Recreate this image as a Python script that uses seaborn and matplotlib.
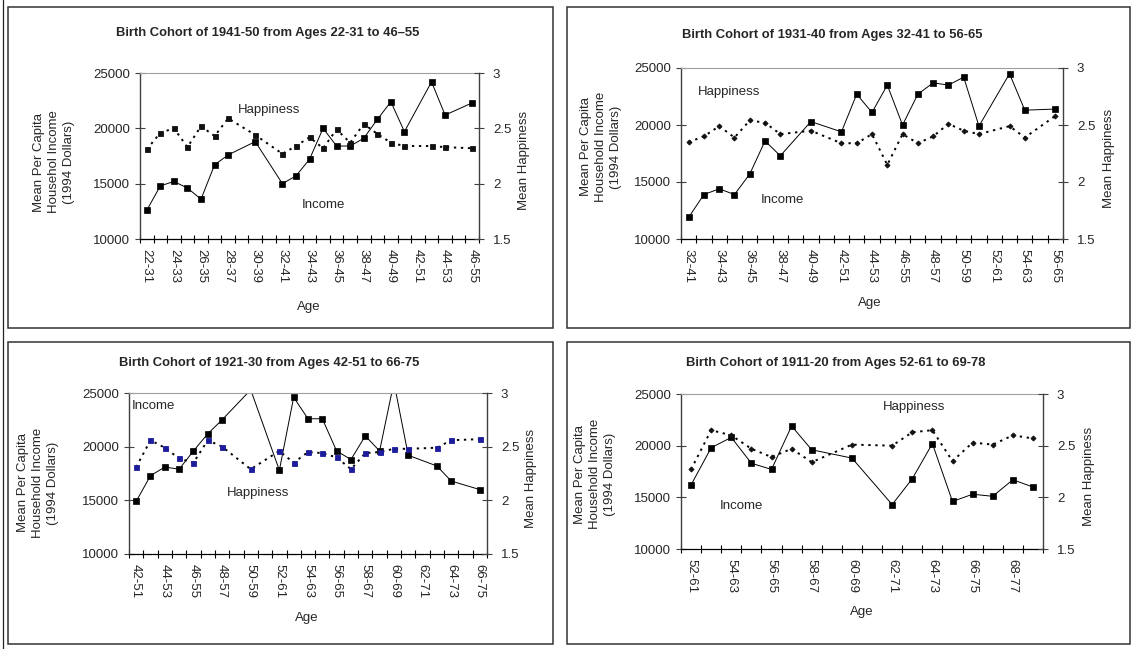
import numpy as np
import pandas as pd
import matplotlib
matplotlib.use("Agg")
import matplotlib.pyplot as plt
from matplotlib.patches import Rectangle
from matplotlib.lines import Line2D
from matplotlib.ticker import FuncFormatter, FixedLocator
import seaborn as sns

nan = np.nan

# ---------------- data ----------------
ages1 = ["22-31", "23-32", "24-33", "25-34", "26-35", "27-36", "28-37", "29-38", "30-39",
         "31-40", "32-41", "33-42", "34-43", "35-44", "36-45", "37-46", "38-47", "39-48",
         "40-49", "41-50", "42-51", "43-52", "44-53", "45-54", "46-55"]
income1 = [12600, 14800, 15200, 14600, 13600, 16700, 17600, nan, 18800, nan, 15000, 15700,
           17200, 20000, 18400, 18400, 19100, 20800, 22400, 19700, nan, 24200, 21200, nan, 22300]
happy1 = [2.31, 2.46, 2.50, 2.33, 2.52, 2.43, 2.59, nan, 2.44, nan, 2.27, 2.34,
          2.42, 2.32, 2.49, 2.37, 2.54, 2.45, 2.37, 2.34, nan, 2.34, 2.33, nan, 2.32]

ages2 = ["32-41", "33-42", "34-43", "35-44", "36-45", "37-46", "38-47", "39-48", "40-49",
         "41-50", "42-51", "43-52", "44-53", "45-54", "46-55", "47-56", "48-57", "49-58",
         "50-59", "51-60", "52-61", "53-62", "54-63", "55-64", "56-65"]
income2 = [11900, 13900, 14400, 13900, 15700, 18600, 17300, nan, 20300, nan, 19400, 22700,
           21100, 23500, 20000, 22700, 23700, 23500, 24200, 19900, nan, 24500, 21300, nan, 21400]
happy2 = [2.35, 2.40, 2.49, 2.39, 2.54, 2.52, 2.42, nan, 2.45, nan, 2.34, 2.34,
          2.42, 2.15, 2.42, 2.34, 2.40, 2.51, 2.45, 2.42, nan, 2.49, 2.39, nan, 2.58]

ages3 = ["42-51", "43-52", "44-53", "45-54", "46-55", "47-56", "48-57", "49-58", "50-59",
         "51-60", "52-61", "53-62", "54-63", "55-64", "56-65", "57-66", "58-67", "59-68",
         "60-69", "61-70", "62-71", "63-72", "64-73", "65-74", "66-75"]
income3 = [14900, 17300, 18100, 17900, 19600, 21200, 22500, nan, 25300, nan, 17800, 24600,
           22600, 22600, 19600, 18800, 21000, 19600, 26000, 19200, nan, 18200, 16800, nan, 16000]
happy3 = [2.31, 2.56, 2.49, 2.39, 2.35, 2.56, 2.50, nan, 2.29, nan, 2.46, 2.35,
          2.45, 2.44, 2.40, 2.29, 2.44, 2.45, 2.48, 2.48, nan, 2.49, 2.56, nan, 2.57]

ages4 = ["52-61", "53-62", "54-63", "55-64", "56-65", "57-66", "58-67", "59-68", "60-69",
         "61-70", "62-71", "63-72", "64-73", "65-74", "66-75", "67-76", "68-77", "69-78"]
income4 = [16200, 19800, 20800, 18300, 17700, 21900, 19600, nan, 18800, nan, 14300, 16800,
           20200, 14600, 15300, 15100, 16700, 16000]
happy4 = [2.27, 2.65, 2.60, 2.47, 2.39, 2.47, 2.34, nan, 2.51, nan, 2.50, 2.63,
          2.65, 2.35, 2.53, 2.51, 2.60, 2.57]

titles = ["Birth Cohort of 1941-50 from Ages 22-31 to 46\u201355",
          "Birth Cohort of 1931-40 from Ages 32-41 to 56-65",
          "Birth Cohort of 1921-30 from Ages 42-51 to 66-75",
          "Birth Cohort of 1911-20 from Ages 52-61 to 69-78"]
ylabels = ["Mean Per Capita\nHousehol Income\n(1994 Dollars)",
           "Mean Per Capita\nHousehold Income\n(1994 Dollars)",
           "Mean Per Capita\nHousehold Income\n(1994 Dollars)",
           "Mean Per Capita\nHousehold Income\n(1994 Dollars)"]
income_ticks = [10000, 15000, 20000, 25000]
happy_ticks = [1.5, 2, 2.5, 3]

# ---------------- style ----------------
sns.set_theme(style="ticks")
plt.rcParams["font.family"] = ["Liberation Sans", "DejaVu Sans"]

W, H = 1135, 649
fig = plt.figure(figsize=(W / 100, H / 100), dpi=100)
fig.patch.set_facecolor("white")


def fx(x):
    return x / W


def fy(y):
    return 1 - y / H


FS = 9.5

panels = [
    dict(ages=ages1, inc=income1, hap=happy1, title=titles[0], ylab=ylabels[0],
         box=(8, 7, 553, 328), axp=(140, 73, 479, 239), title_xy=(268, 33),
         ylab_xy=(54, 162), rlab_xy=(524, 160), age_xy=(309, 307),
         ann=[("Happiness", 269, 110), ("Income", 323, 205)],
         hcol="#111111", hmark="s", hms=3.6),
    dict(ages=ages2, inc=income2, hap=happy2, title=titles[1], ylab=ylabels[1],
         box=(567, 7, 1130, 328), axp=(681, 68, 1063, 239), title_xy=(832, 35),
         ylab_xy=(601, 147), rlab_xy=(1109, 158), age_xy=(870, 303),
         ann=[("Happiness", 729, 92), ("Income", 782, 200)],
         hcol="#111111", hmark="D", hms=2.6),
    dict(ages=ages3, inc=income3, hap=happy3, title=titles[2], ylab=ylabels[2],
         box=(8, 342, 553, 644), axp=(129, 393, 487, 554), title_xy=(269, 363),
         ylab_xy=(38, 483), rlab_xy=(531, 478), age_xy=(307, 618),
         ann=[("Income", 153, 406), ("Happiness", 258, 493)],
         hcol="#1c1c9c", hmark="s", hms=3.6),
    dict(ages=ages4, inc=income4, hap=happy4, title=titles[3], ylab=ylabels[3],
         box=(567, 342, 1130, 644), axp=(681, 394, 1043, 549), title_xy=(836, 363),
         ylab_xy=(595, 474), rlab_xy=(1089, 476), age_xy=(862, 612),
         ann=[("Happiness", 914, 407), ("Income", 741, 506)],
         hcol="#111111", hmark="D", hms=2.6),
]

# thin outer line on the left edge
fig.add_artist(Line2D([fx(3), fx(3)], [0, 1], transform=fig.transFigure,
                      color="#222222", linewidth=0.9))

for p in panels:
    bx0, by0, bx1, by1 = p["box"]
    fig.add_artist(Rectangle((fx(bx0), fy(by1)), fx(bx1) - fx(bx0), (by1 - by0) / H,
                             transform=fig.transFigure, fill=False,
                             edgecolor="#333333", linewidth=1.1))

    l, t, r, b = p["axp"]
    ax = fig.add_axes([fx(l), fy(b), fx(r) - fx(l), (b - t) / H])
    ax.set_facecolor("none")
    ax2 = ax.twinx()
    n = len(p["ages"])
    pos = np.arange(n)

    df_inc = pd.DataFrame({"pos": pos, "Income": p["inc"]}).dropna()
    df_hap = pd.DataFrame({"pos": pos, "Happiness": p["hap"]}).dropna()

    sns.lineplot(data=df_inc, x="pos", y="Income", ax=ax, color="black",
                 linewidth=0.7, marker="s", markersize=4.2,
                 markeredgecolor="black", markerfacecolor="black",
                 markeredgewidth=0.5, estimator=None, sort=True)
    sns.lineplot(data=df_hap, x="pos", y="Happiness", ax=ax2, color="black",
                 linewidth=1.4, linestyle=(0, (1.2, 2.4)), marker=p["hmark"],
                 markersize=p["hms"], markeredgecolor=p["hcol"],
                 markerfacecolor=p["hcol"], markeredgewidth=0.6,
                 estimator=None, sort=True)

    # axis ranges
    ax.set_xlim(-0.5, n - 0.5)
    ax.set_ylim(10000, 25000)
    ax2.set_ylim(1.5, 3)

    # y ticks
    ax.yaxis.set_major_locator(FixedLocator(income_ticks))
    ax.yaxis.set_major_formatter(FuncFormatter(lambda v, _: f"{int(v)}"))
    ax2.yaxis.set_major_locator(FixedLocator(happy_ticks))
    ax2.yaxis.set_major_formatter(FuncFormatter(lambda v, _: f"{v:g}"))
    ax.tick_params(axis="y", which="major", direction="inout", length=7, width=0.8,
                   color="#404040", labelsize=FS, pad=3.5, left=True, right=False)
    ax2.tick_params(axis="y", which="major", direction="inout", length=7, width=0.8,
                    color="#404040", labelsize=FS, pad=6.5, right=True, left=False)

    # x ticks: labels at every other category, tick marks between categories
    ax.set_xticks(pos[::2])
    ax.set_xticklabels([p["ages"][i] for i in pos[::2]], rotation=-90,
                       fontsize=FS, va="top", ha="center")
    ax.set_xticks(np.arange(n + 1) - 0.5, minor=True)
    ax.tick_params(axis="x", which="major", length=0, pad=7, bottom=True)
    ax.tick_params(axis="x", which="minor", direction="inout", length=6, width=0.8,
                   color="black", bottom=True)

    # spines
    for s in ["left", "bottom", "top", "right"]:
        ax.spines[s].set_visible(s != "right")
        ax2.spines[s].set_visible(s == "right")
    ax.spines["left"].set_color("#404040")
    ax.spines["left"].set_linewidth(1.0)
    ax.spines["bottom"].set_color("black")
    ax.spines["bottom"].set_linewidth(0.9)
    ax.spines["top"].set_color("#a0a0a0")
    ax.spines["top"].set_linewidth(0.8)
    ax2.spines["right"].set_color("#404040")
    ax2.spines["right"].set_linewidth(1.0)

    # labels
    ax.set_ylabel(p["ylab"], fontsize=FS, linespacing=1.3, va="center", ha="center")
    ax.yaxis.set_label_coords((p["ylab_xy"][0] - l) / (r - l), (b - p["ylab_xy"][1]) / (b - t))
    ax2.set_ylabel("Mean Happiness", fontsize=FS, rotation=90, va="center", ha="center")
    ax2.yaxis.set_label_coords((p["rlab_xy"][0] - l) / (r - l), (b - p["rlab_xy"][1]) / (b - t))
    ax.set_xlabel("Age", fontsize=FS, va="center", ha="center")
    ax.xaxis.set_label_coords((p["age_xy"][0] - l) / (r - l), (b - p["age_xy"][1]) / (b - t))

    fig.text(fx(p["title_xy"][0]), fy(p["title_xy"][1]), p["title"], fontsize=9.4,
             fontweight="bold", ha="center", va="center")
    for txt, xx, yy in p["ann"]:
        fig.text(fx(xx), fy(yy), txt, fontsize=FS, ha="center", va="center")

fig.savefig("out.png", dpi=100, facecolor="white")
